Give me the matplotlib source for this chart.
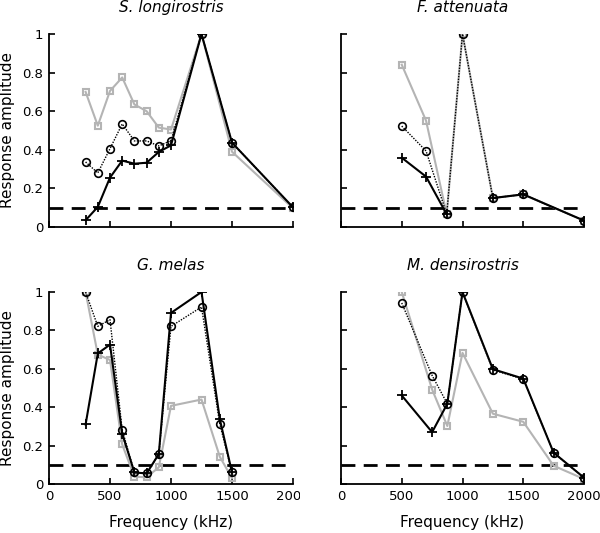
import numpy as np
import matplotlib
matplotlib.use('Agg')
import matplotlib.pyplot as plt
from matplotlib.transforms import Bbox

plt.rcParams['font.family'] = ['DejaVu Sans']

# data per species: frequency (kHz) and three response series
titles = ['S. longirostris', 'F. attenuata', 'G. melas', 'M. densirostris']

freq_sl = [300, 400, 500, 600, 700, 800, 900, 1000, 1250, 1500, 2000]
gray_sl = [0.70, 0.525, 0.705, 0.775, 0.635, 0.60, 0.515, 0.505, 1.0, 0.39, 0.097]
circ_sl = [0.337, 0.28, 0.406, 0.534, 0.446, 0.446, 0.42, 0.447, 1.0, 0.437, 0.102]
cross_sl = [0.035, 0.104, 0.256, 0.344, 0.328, 0.333, 0.389, 0.423, 1.0, 0.437, 0.102]

freq_fa = [500, 700, 870, 1000, 1250, 1500, 2000]
gray_fa = [0.841, 0.551, 0.066, 1.0, 0.15, 0.169, 0.033]
circ_fa = [0.523, 0.394, 0.066, 1.0, 0.15, 0.169, 0.033]
cross_fa = [0.359, 0.261, 0.066, np.nan, 0.15, 0.169, 0.033]

freq_gm = [300, 400, 500, 600, 700, 800, 900, 1000, 1250, 1400, 1500]
gray_gm = [1.0, 0.674, 0.646, 0.206, 0.038, 0.035, 0.087, 0.407, 0.44, 0.142, 0.03]
circ_gm = [1.0, 0.821, 0.856, 0.281, 0.061, 0.055, 0.156, 0.821, 0.922, 0.312, 0.061]
cross_gm = [0.31, 0.68, 0.726, 0.263, 0.06, 0.055, 0.156, 0.891, 1.0, 0.338, 0.06]

freq_md = [500, 750, 875, 1000, 1250, 1500, 1750, 2000]
gray_md = [1.0, 0.492, 0.302, 0.683, 0.366, 0.324, 0.095, 0.026]
circ_md = [0.943, 0.565, 0.418, 1.0, 0.594, 0.546, 0.163, 0.033]
cross_md = [0.461, 0.27, 0.418, 1.0, 0.598, 0.549, 0.163, 0.033]

panels = [
    (freq_sl, gray_sl, circ_sl, cross_sl),
    (freq_fa, gray_fa, circ_fa, cross_fa),
    (freq_gm, gray_gm, circ_gm, cross_gm),
    (freq_md, gray_md, circ_md, cross_md),
]

threshold = 0.1
xticks = [0, 500, 1000, 1500, 2000]
yticks = [0, 0.2, 0.4, 0.6, 0.8, 1]
ylabels = ['0', '0.2', '0.4', '0.6', '0.8', '1']

W, H = 600, 533
fig = plt.figure(figsize=(W / 100, H / 100), dpi=100)

# axes boxes in pixels: left, top, right, bottom
boxes = [(49, 34, 293, 227), (341, 34, 584, 227),
         (49, 292, 293, 484), (341, 292, 584, 484)]

axes = []
for i, (l, t, r, b) in enumerate(boxes):
    ax = fig.add_axes([l / W, 1 - b / H, (r - l) / W, (b - t) / H])
    f, g, c, x = panels[i]
    ax.plot(f, g, color='#b4b4b4', lw=1.5, marker='s', ms=4,
            mfc='none', mec='#b4b4b4', mew=1.5, zorder=2)
    ax.plot(f, c, color='black', lw=1.0, ls=(0, (1, 1)), marker='o', ms=5.5,
            mfc='none', mec='black', mew=1.2, zorder=3)
    ax.plot(f, x, color='black', lw=1.5, marker='+', ms=6.5, mew=1.3, zorder=4)
    ax.axhline(threshold, color='black', lw=2, ls=(0, (5, 3)), zorder=1)

    ax.set_xlim(0, 2000)
    ax.set_ylim(0, 1)
    for s in ['top', 'right']:
        ax.spines[s].set_visible(False)
    for s in ['left', 'bottom']:
        ax.spines[s].set_linewidth(1.3)
    ax.tick_params(direction='in', length=4, width=1.2, labelsize=9.5, pad=4)
    ax.set_xticks(xticks)
    ax.set_yticks(yticks)
    if i % 2 == 0:
        ax.set_yticklabels(ylabels)
        ax.set_ylabel('Response amplitude', fontsize=11, labelpad=5)
    else:
        ax.set_yticklabels([])
    if i >= 2:
        ax.set_xticklabels([str(v) for v in xticks])
        ax.set_xlabel('Frequency (kHz)', fontsize=11, labelpad=9)
    else:
        ax.set_xticklabels([])
    ax.set_title(titles[i], fontsize=11, style='italic', pad=16)
    axes.append(ax)

# bottom-left panel's last label is cut at the panel edge in the source
fig.canvas.draw()
for lab in axes[2].get_xticklabels():
    lab.set_clip_box(Bbox([[0, 0], [300, H]]))
    lab.set_clip_on(True)

fig.savefig('out.png', dpi=100)
